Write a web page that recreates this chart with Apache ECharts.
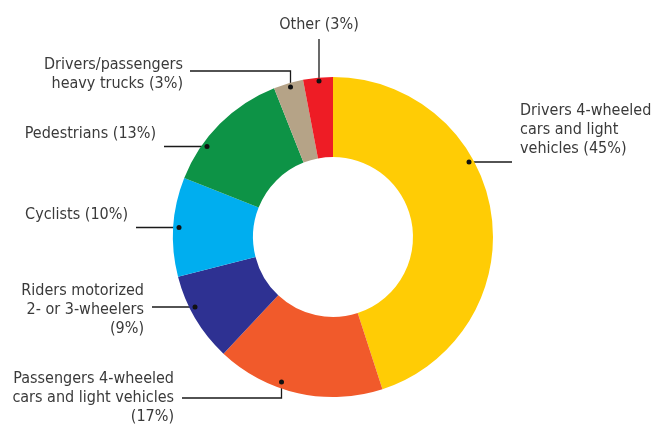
<!DOCTYPE html>
<html>
<head>
<meta charset="utf-8">
<script src="https://cdn.jsdelivr.net/npm/echarts@6/dist/echarts.min.js"></script>
<style>
html,body{margin:0;padding:0;background:#fff;}
#chart{width:653px;height:425px;}
</style>
</head>
<body>
<div id="chart"></div>
<script>
const categories = [
  'Drivers 4-wheeled cars and light vehicles',
  'Passengers 4-wheeled cars and light vehicles',
  'Riders motorized 2- or 3-wheelers',
  'Cyclists',
  'Pedestrians',
  'Drivers/passengers heavy trucks',
  'Other'
];
const values = [45, 17, 9, 10, 13, 3, 3];
const labelTexts = [
  'Drivers 4-wheeled\ncars and light\nvehicles (45%)',
  'Passengers 4-wheeled\ncars and light vehicles\n(17%)',
  'Riders motorized\n2- or 3-wheelers\n(9%)',
  'Cyclists (10%)',
  'Pedestrians (13%)',
  'Drivers/passengers\nheavy trucks (3%)',
  'Other (3%)'
];
const colors = ['#FFCC05', '#F15A2B', '#2E3192', '#00AEEF', '#0D9346', '#B5A387', '#EE1C25'];

// label placement (layout only)
const layout = [
  {x: 520, y: 130, align: 'left',   line: [[469, 162], [469, 162], [512, 162]]},
  {x: 174, y: 398, align: 'right',  line: [[281.5, 382], [281.5, 398], [182, 398]]},
  {x: 144, y: 310, align: 'right',  line: [[195, 307], [195, 307], [152, 307]]},
  {x: 128, y: 215, align: 'right',  line: [[179, 227.5], [179, 227.5], [136, 227.5]]},
  {x: 156, y: 134, align: 'right',  line: [[207, 146.5], [207, 146.5], [164, 146.5]]},
  {x: 183, y: 74,  align: 'right',  line: [[290.5, 87], [290.5, 71], [190, 71]]},
  {x: 319, y: 25,  align: 'center', line: [[319, 81], [319, 81], [319, 39]]}
];

const data = categories.map((c, i) => ({name: c, value: values[i], itemStyle: {color: colors[i]}}));
const font = "'DejaVu Sans Condensed', sans-serif";

const chart = echarts.init(document.getElementById('chart'), null, {renderer: 'canvas'});
chart.setOption({
  animation: false,
  backgroundColor: '#fff',
  series: [
    {
      type: 'pie',
      center: [333, 237],
      radius: [80, 160],
      startAngle: 90,
      clockwise: true,
      avoidLabelOverlap: false,
      silent: true,
      data: data,
      label: {
        show: true,
        formatter: p => labelTexts[p.dataIndex],
        fontFamily: font,
        fontSize: 16,
        lineHeight: 19,
        color: '#3a3a3a'
      },
      labelLine: {
        show: true,
        lineStyle: {color: '#1a1a1a', width: 1.3}
      },
      labelLayout: p => {
        const L = layout[p.dataIndex];
        return {x: L.x, y: L.y, align: L.align, verticalAlign: 'middle', labelLinePoints: L.line};
      }
    },
    {
      type: 'pie',
      center: [333, 237],
      radius: [150, 160],
      startAngle: 90,
      clockwise: true,
      silent: true,
      avoidLabelOverlap: false,
      data: values.map((v, i) => ({name: categories[i], value: v})),
      itemStyle: {color: 'rgba(0,0,0,0)'},
      label: {
        show: true,
        position: 'inside',
        formatter: '{d| }',
        rich: {d: {width: 5, height: 5, borderRadius: 3, backgroundColor: '#111', fontSize: 1}}
      },
      labelLine: {show: false},
      labelLayout: p => {
        const pt = layout[p.dataIndex].line[0];
        return {x: pt[0], y: pt[1], align: 'center', verticalAlign: 'middle'};
      }
    }
  ]
});
</script>
</body>
</html>
